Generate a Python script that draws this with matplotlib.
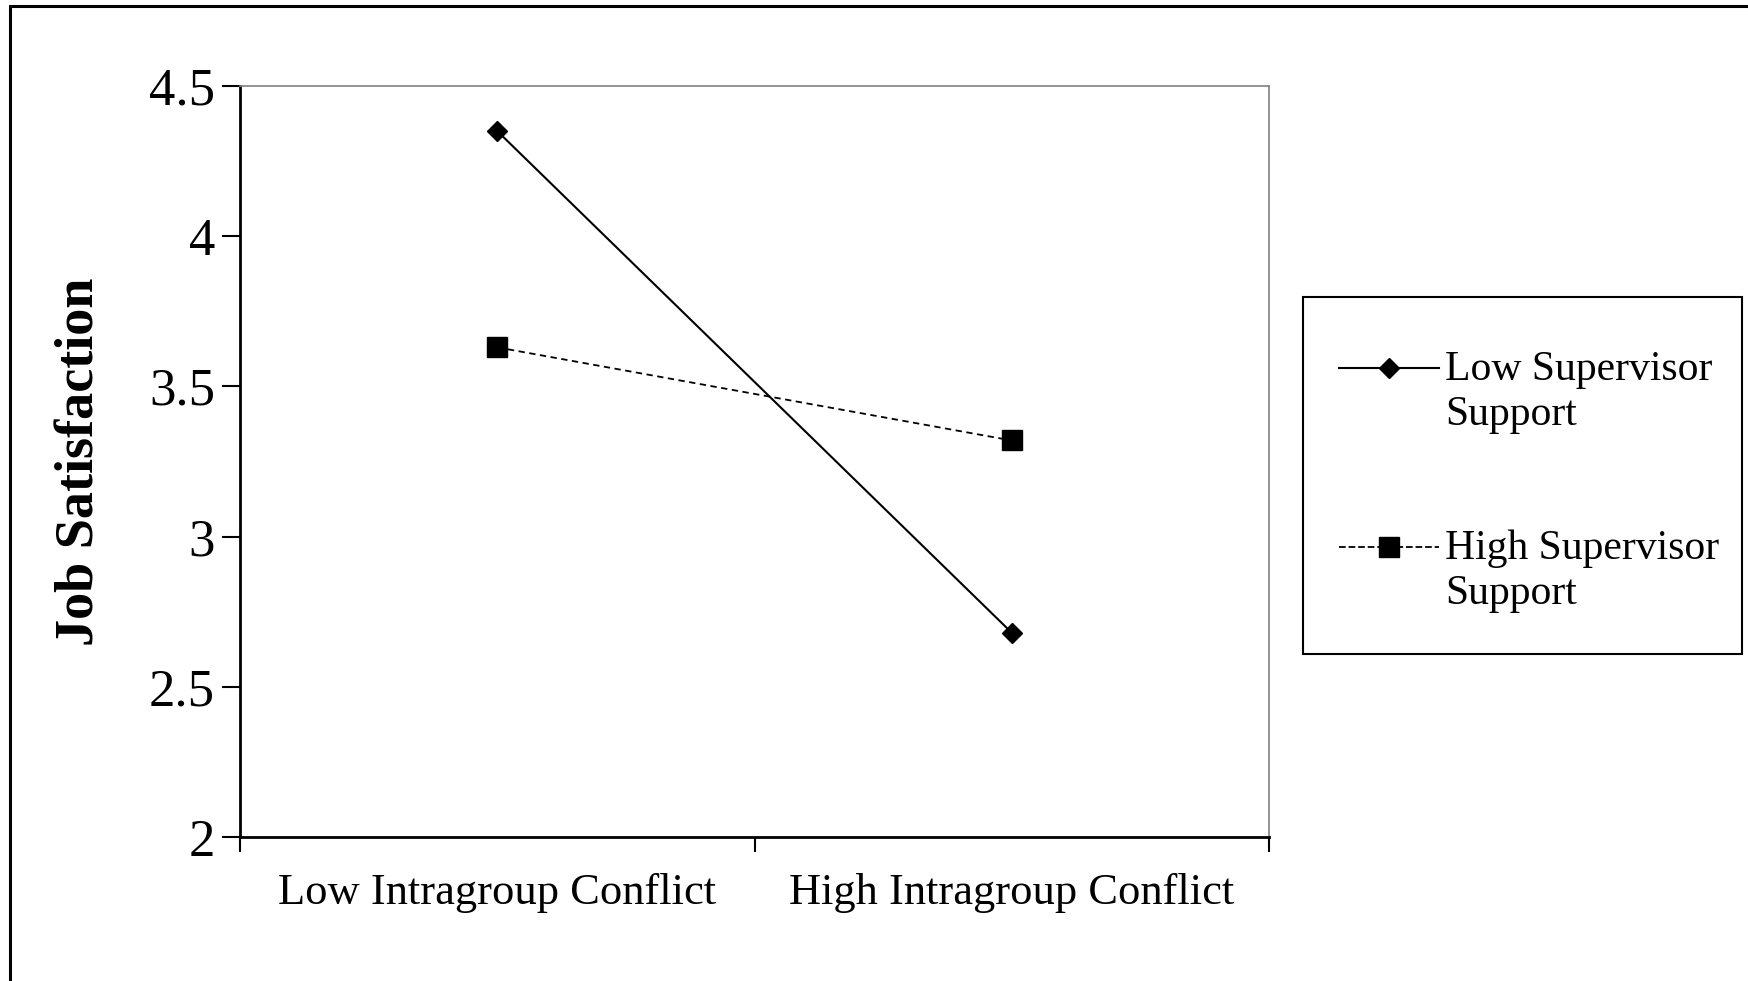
import numpy as np
import matplotlib.pyplot as plt
from matplotlib.patches import Rectangle
from matplotlib.lines import Line2D

# data
conflict_labels = ['Low Intragroup Conflict', 'High Intragroup Conflict']
low_support = [4.35, 2.68]
high_support = [3.63, 3.32]
series_labels = ['Low Supervisor\nSupport', 'High Supervisor\nSupport']
y_ticks = [2, 2.5, 3, 3.5, 4, 4.5]

plt.rcParams['font.family'] = ['Liberation Serif', 'DejaVu Serif']

W, H = 1749, 981
fig = plt.figure(figsize=(W / 100, H / 100), dpi=100)

def fx(px):
    return px / W

def fy(py):
    return 1 - py / H

# outer frame of the figure panel
fig.patches.append(Rectangle((fx(10), -0.05), 1.1, fy(6) + 0.05,
                             transform=fig.transFigure, fill=False,
                             edgecolor='black', linewidth=2.2))

ax = fig.add_axes([fx(240), fy(837), fx(1269 - 240), (837 - 86) / H])

x = np.arange(len(conflict_labels)) + 0.5
l1, = ax.plot(x, low_support, color='black', linestyle='-', linewidth=1.5,
              marker='D', markersize=10)
l2, = ax.plot(x, high_support, color='black', linestyle=(0, (3.5, 2.5)),
              linewidth=1.3, marker='s', markersize=14)

ax.set_xlim(0, 2)
ax.set_ylim(2, 4.5)
ax.set_yticks(y_ticks)
ax.set_yticklabels(['2', '2.5', '3', '3.5', '4', '4.5'], fontsize=38)
ax.set_xticks([0, 1, 2])
ax.set_xticklabels([])
ax.set_xticks(x, minor=True)
ax.set_xticklabels(conflict_labels, minor=True, fontsize=32)
ax.tick_params(axis='x', which='minor', length=0, pad=26)
ax.tick_params(axis='x', which='major', direction='out', length=11, width=1.5)
ax.tick_params(axis='y', direction='out', length=13, width=1.5, pad=5)

for s in ['left', 'bottom']:
    ax.spines[s].set_linewidth(2)
    ax.spines[s].set_color('black')
for s in ['top', 'right']:
    ax.spines[s].set_linewidth(1.2)
    ax.spines[s].set_color('#808080')

ax.set_ylabel('Job Satisfaction', fontsize=39, fontweight='bold')
ax.yaxis.set_label_coords(-0.131, 0.5)

# legend box drawn by hand so the handle lines up with the first text line
fig.patches.append(Rectangle((fx(1303), fy(654)), fx(1742 - 1303), (654 - 297) / H,
                             transform=fig.transFigure, fill=False,
                             edgecolor='black', linewidth=1.5))
for line, label, py in zip([l1, l2], series_labels, [368, 547]):
    fig.add_artist(Line2D([fx(1339), fx(1439)], [fy(py), fy(py)],
                          transform=fig.transFigure, color=line.get_color(),
                          linestyle=line.get_linestyle(),
                          linewidth=line.get_linewidth()))
    fig.add_artist(Line2D([fx(1389)], [fy(py)], transform=fig.transFigure,
                          color=line.get_color(), linestyle='none',
                          marker=line.get_marker(),
                          markersize=line.get_markersize()))
    for i, part in enumerate(label.split('\n')):
        fig.text(fx(1445), fy(py + 12 + 45 * i), part, fontsize=30,
                 ha='left', va='baseline', transform=fig.transFigure)

fig.savefig('out.png', dpi=100)
